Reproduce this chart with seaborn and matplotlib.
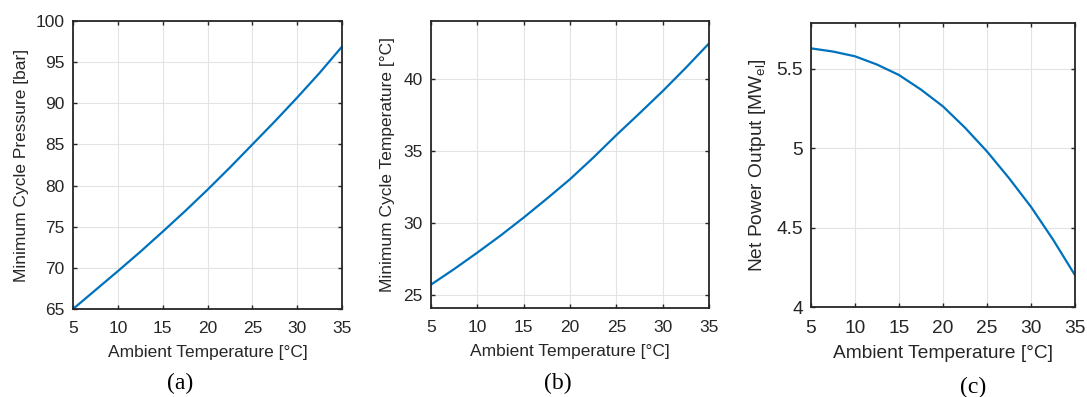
import matplotlib
matplotlib.use("Agg")
import matplotlib.pyplot as plt
import seaborn as sns
import pandas as pd

# valeurs
t_amb = [5, 7.5, 10, 12.5, 15, 17.5, 20, 22.5, 25, 27.5, 30, 32.5, 35]
p_min = [65.0, 67.3, 69.6, 71.95, 74.4, 76.9, 79.5, 82.2, 85.0, 87.8, 90.7, 93.7, 96.9]
t_min = [25.72, 26.8, 27.94, 29.12, 30.37, 31.68, 33.03, 34.52, 36.09, 37.6, 39.14, 40.76, 42.45]
p_net = [5.63, 5.61, 5.58, 5.528, 5.462, 5.37, 5.264, 5.13, 4.98, 4.812, 4.631, 4.425, 4.20]

sns.set_theme(style="whitegrid")
plt.rcParams['font.family'] = ['Liberation Sans', 'DejaVu Sans']
plt.rcParams['mathtext.fontset'] = 'custom'
plt.rcParams['mathtext.rm'] = 'Liberation Sans'
plt.rcParams['mathtext.it'] = 'Liberation Sans'

LINE = "#0072BD"
TXT = "#262626"

fig = plt.figure(figsize=(10.87, 3.97), dpi=100)

panels = [
    ([0.0672, 0.2217, 0.2475, 0.7254], p_min, "Minimum Cycle Pressure [bar]",
     (65, 100), [65, 70, 75, 80, 85, 90, 95, 100], "(a)", 180, 383, 12.5, 5),
    ([0.3965, 0.2242, 0.2558, 0.7229], t_min, "Minimum Cycle Temperature [°C]",
     (24.1, 44.0), [25, 30, 35, 40], "(b)", 558, 383, 12.5, 6),
    ([0.7461, 0.2267, 0.2429, 0.7154], p_net, "Net Power Output [MW$_{\\rm el}$]",
     (4, 5.79), [4, 4.5, 5, 5.5], "(c)", 973, 387, 13.8, 6),
]

for rect, yvals, ylab, ylim, yticks, tag, xc, yc, fs, ypad in panels:
    ax = fig.add_axes(rect)
    df = pd.DataFrame({"x": t_amb, "y": yvals})
    sns.lineplot(data=df, x="x", y="y", ax=ax, color=LINE, linewidth=1.6)
    ax.set_xlim(5, 35)
    ax.set_ylim(*ylim)
    ax.set_xticks([5, 10, 15, 20, 25, 30, 35])
    ax.set_yticks(yticks)
    ax.set_yticklabels([f"{v:g}" for v in yticks])
    ax.set_xlabel("Ambient Temperature [°C]", fontsize=fs, color=TXT, labelpad=6)
    ax.set_ylabel(ylab, fontsize=fs, color=TXT, labelpad=ypad)
    ax.grid(True, color="#e3e3e3", linewidth=0.8)
    for s in ax.spines.values():
        s.set_visible(True)
        s.set_color("#262626")
        s.set_linewidth(1.3)
    ax.tick_params(axis="x", pad=9)
    ax.tick_params(axis="y", pad=6)
    ax.tick_params(direction="in", length=3, width=1, colors=TXT, labelsize=fs,
                   top=True, right=True, bottom=True, left=True)
    fig.text(xc / 1087, 1 - yc / 397, tag, ha="center", va="center",
             fontsize=17, family="Liberation Serif", color="black")

fig.savefig("out.png", dpi=100, facecolor="white")
